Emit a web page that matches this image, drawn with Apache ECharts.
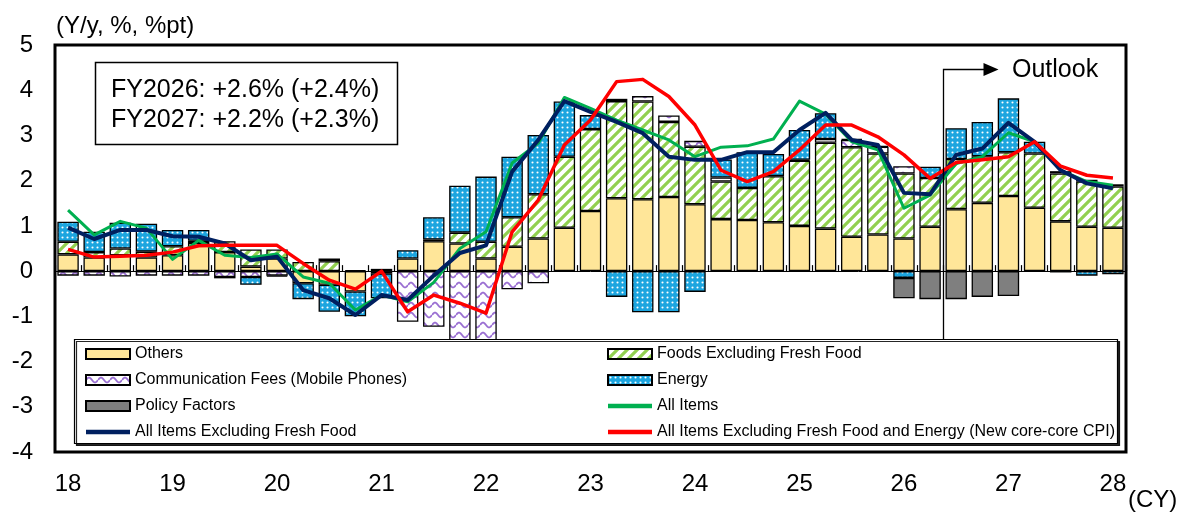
<!DOCTYPE html>
<html>
<head>
<meta charset="utf-8">
<script src="https://cdn.jsdelivr.net/npm/echarts@6/dist/echarts.min.js"></script>
<style>
  html, body { margin: 0; padding: 0; background: #fff; }
  #chart { width: 1181px; height: 513px; }
</style>
</head>
<body>
<div id="chart"></div>
<script>
// Quarterly categories, 2018Q1 .. 2028Q1
const categories = [
  '2018Q1','2018Q2','2018Q3','2018Q4','2019Q1','2019Q2','2019Q3','2019Q4',
  '2020Q1','2020Q2','2020Q3','2020Q4','2021Q1','2021Q2','2021Q3','2021Q4',
  '2022Q1','2022Q2','2022Q3','2022Q4','2023Q1','2023Q2','2023Q3','2023Q4',
  '2024Q1','2024Q2','2024Q3','2024Q4','2025Q1','2025Q2','2025Q3','2025Q4',
  '2026Q1','2026Q2','2026Q3','2026Q4','2027Q1','2027Q2','2027Q3','2027Q4',
  '2028Q1'
];
const yearLabels = ['18','19','20','21','22','23','24','25','26','27','28'];
const yTicks = [-4, 5, 1]; // min, max, step

// Contributions (%pt)
const others = [
  0.37, 0.30, 0.35, 0.30, 0.35, 0.62, 0.42, 0.10,
  0.28, -0.27, -0.30, -0.45, 0.00, 0.28, 0.66, 0.61,
  0.28, 0.54, 0.72, 0.96, 1.33, 1.61, 1.59, 1.64,
  1.48, 1.15, 1.13, 1.08, 1.00, 0.94, 0.76, 0.81,
  0.72, 0.98, 1.37, 1.51, 1.66, 1.40, 1.10, 0.98,
  0.96
];
const foods = [
  0.28, 0.12, 0.15, 0.13, 0.20, 0.05, 0.24, 0.38,
  0.20, 0.20, 0.22, 0.02, 0.05, 0.00, 0.04, 0.24,
  0.37, 0.65, 0.98, 1.57, 1.81, 2.15, 2.16, 1.66,
  1.27, 0.83, 0.71, 1.02, 1.44, 1.90, 1.98, 1.79,
  1.44, 1.08, 1.11, 1.03, 0.97, 1.20, 1.06, 1.00,
  0.91
];
const communication = [
  -0.10, -0.10, -0.12, -0.10, -0.10, -0.10, -0.13, -0.13,
  -0.10, 0.00, 0.06, 0.00, -0.05, -1.12, -1.23, -1.55,
  -1.55, -0.40, -0.27, 0.00, 0.00, 0.05, 0.12, 0.14,
  0.13, 0.09, 0.00, 0.00, 0.02, 0.08, 0.16, 0.15,
  0.16, 0.00, 0.00, 0.00, 0.00, 0.00, 0.00, 0.00,
  0.00
];
const energy = [
  0.44, 0.45, 0.57, 0.62, 0.36, 0.24, -0.03, -0.17,
  -0.02, -0.35, -0.60, -0.55, -0.55, 0.18, 0.49, 1.04,
  1.44, 1.34, 1.31, 1.22, 0.31, -0.57, -0.91, -0.91,
  -0.46, 0.40, 0.79, 0.49, 0.66, 0.57, 0.02, 0.02,
  -0.15, 0.25, 0.68, 0.76, 1.19, 0.26, -0.03, -0.10,
  -0.07
];
const policy = [
  0, 0, 0, 0, 0, 0, 0, 0,
  0, 0, 0, 0, 0, 0, 0, 0,
  0, 0, 0, 0, 0, 0, 0, 0,
  0, 0, 0, 0, 0, 0, 0, 0,
  -0.45, -0.62, -0.62, -0.57, -0.55, 0, 0.05, 0.04,
  0.05
];

// Y/y rates (%)
const allItems = [
  1.35, 0.80, 1.10, 0.95, 0.26, 0.68, 0.35, 0.30,
  0.38, -0.13, -0.27, -0.86, -0.53, -0.68, -0.25, 0.50,
  0.87, 2.39, 2.83, 3.84, 3.60, 3.34, 3.12, 2.90,
  2.53, 2.74, 2.77, 2.92, 3.76, 3.47, 2.86, 2.68,
  1.39, 1.68, 2.38, 2.53, 3.06, 2.86, 2.23, 1.98,
  1.90
];
const coreCPI = [
  0.96, 0.71, 0.91, 0.91, 0.77, 0.76, 0.61, 0.24,
  0.32, -0.42, -0.60, -0.97, -0.53, -0.64, -0.10, 0.40,
  0.57, 2.20, 2.90, 3.76, 3.52, 3.30, 3.05, 2.53,
  2.46, 2.46, 2.63, 2.63, 3.12, 3.50, 2.90, 2.79,
  1.73, 1.70, 2.57, 2.71, 3.28, 2.86, 2.23, 1.94,
  1.83
];
const coreCoreCPI = [
  0.48, 0.31, 0.33, 0.35, 0.42, 0.56, 0.57, 0.57,
  0.57, 0.17, -0.20, -0.40, 0.00, -0.90, -0.53, -0.71,
  -0.93, 0.87, 1.57, 2.79, 3.34, 4.19, 4.24, 3.86,
  3.23, 2.23, 1.98, 2.20, 2.68, 3.23, 3.23, 2.97,
  2.57, 2.05, 2.40, 2.46, 2.53, 2.86, 2.32, 2.12,
  2.06
];

const FONT = "'Liberation Sans', Arial, sans-serif";

// Fill patterns
function makeTile(w, h, draw) {
  const c = document.createElement('canvas');
  c.width = w; c.height = h;
  draw(c.getContext('2d'));
  return c;
}
const stripeTile = makeTile(10, 10, g => {
  g.fillStyle = '#fff'; g.fillRect(0, 0, 10, 10);
  g.strokeStyle = '#92D050'; g.lineWidth = 3.2;
  g.beginPath();
  [-10, 0, 10].forEach(o => { g.moveTo(o - 2, 12); g.lineTo(o + 12, -2); });
  g.stroke();
});
const dotTile = makeTile(5, 5, g => {
  g.fillStyle = '#1CA5DF'; g.fillRect(0, 0, 5, 5);
  g.fillStyle = '#fff';
  g.beginPath(); g.arc(2.5, 2.5, 1.05, 0, Math.PI * 2); g.fill();
});
const waveTile = makeTile(12, 10, g => {
  g.fillStyle = '#fff'; g.fillRect(0, 0, 12, 10);
  g.strokeStyle = '#9A6FD2'; g.lineWidth = 1.8;
  g.beginPath();
  for (let x = 0; x <= 12; x += 0.5) {
    const y = 5 - 2.4 * Math.sin((x / 12) * Math.PI * 2);
    if (x === 0) g.moveTo(x, y); else g.lineTo(x, y);
  }
  g.stroke();
});

const nz = arr => arr.map(v => (v === 0 ? null : v));

function barSeries(name, data, color) {
  return {
    name, type: 'bar', stack: 'contrib', data: nz(data),
    barWidth: '82%',
    itemStyle: { color, borderColor: '#000', borderWidth: 1.3 },
    emphasis: { disabled: true },
    z: 2
  };
}
function lineSeries(name, data, color, width) {
  return {
    name, type: 'line', data, symbol: 'none',
    lineStyle: { color, width, join: 'round' },
    itemStyle: { color },
    emphasis: { disabled: true },
    z: 5
  };
}

const legendText = { color: '#000', fontFamily: FONT, fontSize: 16, lineHeight: 16 };
const legendBase = {
  orient: 'vertical', top: 346, itemWidth: 44, itemHeight: 10, itemGap: 10,
  padding: 0, textStyle: legendText, selectedMode: false, z: 20, icon: 'rect'
};
const lineIcon = 'path://M0,0H44V4.5H0Z';

const chart = echarts.init(document.getElementById('chart'), null, { renderer: 'canvas' });

const option = {
  animation: false,
  backgroundColor: '#fff',
  grid: {
    left: 55, right: 55, top: 45, bottom: 61,
    show: true, borderColor: '#000', borderWidth: 3, backgroundColor: 'transparent',
    outerBoundsMode: 'none'
  },
  xAxis: [
    {
      type: 'category', data: categories, position: 'bottom',
      axisLine: { show: false, onZero: false },
      axisTick: { show: false },
      axisLabel: {
        interval: 3, margin: 20, color: '#000', fontFamily: FONT, fontSize: 24,
        formatter: (v, i) => yearLabels[i / 4]
      },
      splitLine: { show: false }
    },
    {
      type: 'category', data: categories, position: 'bottom',
      axisLine: { show: true, onZero: true, lineStyle: { color: '#000', width: 1 } },
      axisTick: { show: true, inside: true, length: 6, interval: 0, lineStyle: { color: '#000', width: 1.2 } },
      axisLabel: { show: false },
      splitLine: { show: false }
    }
  ],
  yAxis: {
    type: 'value', min: yTicks[0], max: yTicks[1], interval: yTicks[2],
    axisLine: { show: false }, axisTick: { show: false }, splitLine: { show: false },
    axisLabel: { margin: 22, color: '#000', fontFamily: FONT, fontSize: 24 }
  },
  legend: [
    Object.assign({}, legendBase, {
      left: 85,
      data: ['Others', 'Communication Fees (Mobile Phones)', 'Policy Factors',
             { name: 'All Items Excluding Fresh Food', icon: lineIcon }]
    }),
    Object.assign({}, legendBase, {
      left: 607,
      data: ['Foods Excluding Fresh Food', 'Energy',
             { name: 'All Items', icon: lineIcon },
             { name: 'All Items Excluding Fresh Food and Energy (New core-core CPI)', icon: lineIcon }]
    })
  ],
  series: [
    barSeries('Others', others, '#FFE699'),
    barSeries('Foods Excluding Fresh Food', foods, { image: stripeTile, repeat: 'repeat' }),
    barSeries('Communication Fees (Mobile Phones)', communication, { image: waveTile, repeat: 'repeat' }),
    barSeries('Energy', energy, { image: dotTile, repeat: 'repeat' }),
    barSeries('Policy Factors', policy, '#7F7F7F'),
    lineSeries('All Items', allItems, '#00B050', 3),
    lineSeries('All Items Excluding Fresh Food', coreCPI, '#002060', 4),
    lineSeries('All Items Excluding Fresh Food and Energy (New core-core CPI)', coreCoreCPI, '#FF0000', 3.5)
  ]
};
chart.setOption(option);

// Annotations: axis titles, FY box, legend frame and the outlook marker
const x33 = chart.convertToPixel({ xAxisIndex: 0 }, categories[33]);
const x34 = chart.convertToPixel({ xAxisIndex: 0 }, categories[34]);
const xOutlook = Math.round((x33 + x34) / 2) + 0.5;
const legendTop = 339;

chart.setOption({
  graphic: [
    { type: 'text', left: 56, top: 14, z: 10,
      style: { text: '(Y/y, %, %pt)', fill: '#000', font: '24px ' + FONT } },
    { type: 'text', left: 1128, top: 488, z: 10,
      style: { text: '(CY)', fill: '#000', font: '24px ' + FONT } },
    { type: 'rect', z: 10, shape: { x: 95.5, y: 62.5, width: 302, height: 82 },
      style: { fill: '#fff', stroke: '#000', lineWidth: 1.5 } },
    { type: 'text', z: 11, x: 111, y: 75,
      style: { text: 'FY2026: +2.6% (+2.4%)\nFY2027: +2.2% (+2.3%)', fill: '#000',
               font: '25px ' + FONT, lineHeight: 30 } },
    { type: 'rect', z: 15, shape: { x: 74.5, y: legendTop + 0.5, width: 1043, height: 104 },
      style: { fill: '#fff', stroke: '#000', lineWidth: 1.2,
               shadowColor: 'rgba(0,0,0,0.85)', shadowOffsetX: 2, shadowOffsetY: 2, shadowBlur: 0 } },
    { type: 'polyline', z: 12,
      shape: { points: [[xOutlook, legendTop], [xOutlook, 69.5], [xOutlook + 42, 69.5]] },
      style: { stroke: '#000', lineWidth: 1.3, fill: null } },
    { type: 'polygon', z: 12,
      shape: { points: [[xOutlook + 40, 63], [xOutlook + 55, 69.5], [xOutlook + 40, 76]] },
      style: { fill: '#000' } },
    { type: 'text', z: 12, x: 1012, y: 70,
      style: { text: 'Outlook', fill: '#000', font: '25px ' + FONT, verticalAlign: 'middle' } }
  ]
});
</script>
</body>
</html>
